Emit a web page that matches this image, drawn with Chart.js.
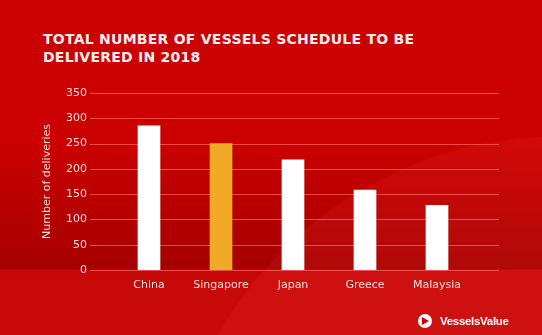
<!DOCTYPE html>
<html>
<head>
<meta charset="utf-8">
<script src="https://cdn.jsdelivr.net/npm/chart.js@4.4.1/dist/chart.umd.min.js"></script>
<style>
  html, body { margin: 0; padding: 0; }
  body {
    width: 542px; height: 335px; overflow: hidden; position: relative;
    background:
      radial-gradient(circle 395px at 560px 530px, rgba(255,70,70,0.12) 99.4%, rgba(255,70,70,0) 100%),
      linear-gradient(to bottom, #cc0000 0px, #cb0000 140px, #a60000 269px, #c60808 270px, #c70a0a 335px);
  }
  #title {
    position: absolute; left: 43px; top: 30px;
    font-family: "DejaVu Sans", sans-serif; font-weight: bold;
    font-size: 14px; line-height: 18px; color: #fbeeee; letter-spacing: 0.25px;
  }
  #logo {
    position: absolute; left: 418px; top: 313px; height: 16px;
    display: flex; align-items: center;
    font-family: "Liberation Sans", sans-serif; font-weight: bold; font-size: 11.5px;
    color: #ffffff; letter-spacing: -0.3px;
  }
  #logo .dot {
    width: 14px; height: 14px; border-radius: 50%; background: #fff; position: relative; margin-right: 8px;
  }
  #logo .dot::after {
    content: ""; position: absolute; left: 4px; top: 3px;
    border-left: 7px solid #cc0000; border-top: 4px solid transparent; border-bottom: 4px solid transparent;
  }
  canvas { position: absolute; left: 0; top: 0; }
</style>
</head>
<body>
<div id="title">TOTAL NUMBER OF VESSELS SCHEDULE TO BE<br>DELIVERED IN 2018</div>
<canvas id="c" width="542" height="335"></canvas>
<div id="logo"><span class="dot"></span>VesselsValue</div>
<script>
const categories = ["China", "Singapore", "Japan", "Greece", "Malaysia"];
const deliveries = [285, 250, 218, 158, 128];
const highlighted = "Singapore";
const yAxisTitle = "Number of deliveries";
const yMax = 350;
const yStep = 50;

const gridPlugin = {
  id: 'extGrid',
  beforeDatasetsDraw(chart) {
    const y = chart.scales.y;
    const ctx = chart.ctx;
    ctx.save();
    ctx.strokeStyle = 'rgba(255,115,115,0.65)';
    ctx.lineWidth = 1;
    y.ticks.forEach(t => {
      const py = Math.round(y.getPixelForValue(t.value)) + 0.5;
      ctx.beginPath();
      ctx.moveTo(90, py);
      ctx.lineTo(499, py);
      ctx.stroke();
    });
    ctx.restore();
  }
};

new Chart(document.getElementById('c'), {
  type: 'bar',
  data: {
    labels: categories,
    datasets: [{
      data: deliveries,
      backgroundColor: categories.map(c => c === highlighted ? '#f2aa26' : '#ffffff'),
      borderWidth: 0,
      barThickness: 22
    }]
  },
  options: {
    responsive: false,
    devicePixelRatio: 1,
    animation: false,
    layout: { padding: { left: 41, right: 69, top: 93, bottom: 0 } },
    plugins: { legend: { display: false }, tooltip: { enabled: false } },
    scales: {
      x: {
        grid: { display: false, drawTicks: false },
        border: { display: false },
        ticks: { color: '#f6dede', font: { family: 'DejaVu Sans', size: 11 }, padding: 9, maxRotation: 0 },
        afterFit(s) { s.height = 65; }
      },
      y: {
        min: 0, max: yMax,
        grid: { display: false, drawTicks: false },
        border: { display: false },
        ticks: { stepSize: yStep, color: '#f6dede', font: { family: 'DejaVu Sans', size: 11 }, padding: 26 },
        title: { display: true, text: yAxisTitle, color: '#f6dede', font: { family: 'DejaVu Sans', size: 11 }, padding: 0 },
        afterFit(s) { s.width = 72; }
      }
    }
  },
  plugins: [gridPlugin]
});
</script>
</body>
</html>
